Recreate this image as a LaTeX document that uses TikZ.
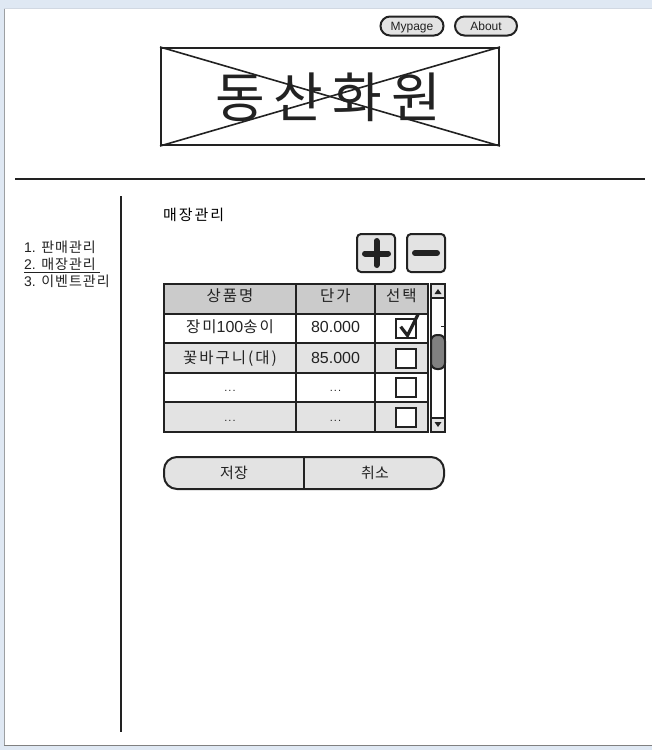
\documentclass[tikz,border=0pt]{standalone}
\usepackage{fontspec}
\setmainfont{Liberation Sans}
\newfontfamily\kr[LetterSpace=13]{Noto Sans CJK KR}
\newfontfamily\krmenu[LetterSpace=7]{Noto Sans CJK KR}
\newfontfamily\krplain{Noto Sans CJK KR}
\usepackage{xcolor}
\definecolor{ink}{HTML}{222222}
\definecolor{paneback}{HTML}{E3E3E3}
\definecolor{headback}{HTML}{CBCBCB}
\definecolor{frameblue}{HTML}{DFE8F3}
\definecolor{thumbgrey}{HTML}{808080}
\newcommand{\rowdots}{\normalfont\fontsize{11}{11}\selectfont .\hspace{1pt}.\hspace{1pt}.}
\newcommand{\num}[1]{{\normalfont\fontsize{16}{16}\selectfont #1}}
\tikzset{
  ln/.style={draw=ink, line width=2pt},
  cell/.style={ln, minimum height=29.6pt, inner sep=0pt},
  celltext/.style={inner sep=0pt, text=ink, text height=11pt, text depth=3pt, font=\kr\fontsize{15.5}{15.5}\selectfont},
  pill/.style={ln, fill=paneback, rounded corners=9.5pt, inner sep=0pt, minimum height=19pt, text height=10pt, text depth=1.5pt, text=ink, font=\fontsize{12}{12}\selectfont},
  squarebtn/.style={ln, fill=paneback, rounded corners=4pt, minimum width=38pt, minimum height=38pt, inner sep=0pt},
  checkbox/.style={ln, fill=white, minimum width=20pt, minimum height=19pt, inner sep=0pt},
  menuitem/.style={anchor=west, inner sep=0pt, text=ink, font=\krmenu\fontsize{14}{14}\selectfont},
  scrollbox/.style={ln, minimum width=14pt, inner sep=0pt},
  bartext/.style={text=ink, inner sep=0pt, font=\krplain\fontsize{15}{15}\selectfont},
}
\begin{document}
\begin{tikzpicture}[x=1pt,y=-1pt]
    \useasboundingbox (0,0) rectangle (652,750);

    % window frame
    \fill[frameblue] (0,0) rectangle (652,750);
    \fill[white] (4,8) rectangle (652,745);
    \draw[color=gray!70!frameblue, line width=1pt] (4.5,8) -- (4.5,745);
    \draw[color=gray, line width=1pt] (4,745) -- (652,745);
    \draw[color=frameblue!85!gray, line width=1pt] (4,8) -- (652,8);

    % top buttons
    \node[pill, minimum width=63pt] (mypage) at (412,26) {Mypage};
    \node[pill, minimum width=62pt] (about) at (486,26) {About};

    % logo
    \node[ln, minimum width=338pt, minimum height=97pt, inner sep=0pt] (logo) at (330,96.5) {};
    \draw[ink, line width=1.6pt] (logo.north west) -- (logo.south east);
    \draw[ink, line width=1.6pt] (logo.south west) -- (logo.north east);
    \node[text=ink, font=\krplain\fontsize{54}{54}\selectfont, inner sep=0pt] (title) at (328,97) {동\hspace{9pt}산\hspace{9pt}화\hspace{9pt}원};

    % dividers
    \coordinate (ruleL) at (15,179);
    \coordinate (ruleR) at (645,179);
    \draw[ln] (ruleL) -- (ruleR);
    \coordinate (sideT) at (121,196);
    \coordinate (sideB) at (121,732);
    \draw[ln] (sideT) -- (sideB);

    % menu
    \node[menuitem] (menua) at (24,247) {{\normalfont 1.} 판매관리};
    \node[menuitem] (menub) at (24,264) {{\normalfont 2.} 매장관리};
    \node[menuitem] (menuc) at (24,281) {{\normalfont 3.} 이벤트관리};
    \coordinate (underL) at (24,272.5);
    \coordinate (underR) at (100,272.5);
    \draw[ink, line width=1pt] (underL) -- (underR);

    \node[anchor=west, inner sep=0pt, text=black, font=\kr\fontsize{15}{15}\selectfont] (heading) at (163,215) {매장관리};

    % plus and minus
    \node[squarebtn] (plus) at (376,253) {};
    \node[squarebtn] (minus) at (426,253) {};
    \draw[ink, line width=6pt, line cap=round] (365,253.5) -- (388,253.5);
    \draw[ink, line width=6pt, line cap=round] (376.5,241) -- (376.5,265);
    \draw[ink, line width=6pt, line cap=round] (415,253) -- (437,253);

    % table
    \foreach \name/\ya/\col/\lift/\first/\second in {
        r0/298.8/headback/1.3/상품명/단가,
        r1/328.4/white/0/장미\num{100}송이/\num{80.000},
        r2/358/paneback/-1/꽃바구니(대)/\num{85.000},
        r3/387.6/white/0/\rowdots/\rowdots,
        r4/417.2/paneback/0/\rowdots/\rowdots} {
      \node[cell, fill=\col, minimum width=132pt] (\name a) at (230,\ya) {};
      \node[cell, fill=\col, minimum width=79pt] (\name b) at (335.5,\ya) {};
      \node[cell, fill=\col, minimum width=53pt] (\name c) at (401.5,\ya) {};
      \node[celltext] (\name atext) at ([yshift=\lift pt]\name a.center) {\first};
      \node[celltext] (\name btext) at ([yshift=\lift pt]\name b.center) {\second};
    }
    \node[celltext] (sel) at ([yshift=1pt]r0c.center) {선택};
    \foreach \name in {r1,r2,r3,r4}
      \node[checkbox, xshift=4.5pt] (\name box) at (\name c) {};
    \draw[ink, line width=3.2pt] (400.7,326.7) -- (407.5,335.5) -- (418,314.5);

    % scrollbar
    \node[scrollbox, fill=white, minimum height=148pt] (scroll) at (438,358) {};
    \node[scrollbox, fill=paneback, minimum height=14pt] (scrollup) at (438,291) {};
    \node[scrollbox, fill=paneback, minimum height=14pt] (scrolldown) at (438,425) {};
    \fill[ink] (434.5,294) -- (441.5,294) -- (438,289) -- cycle;
    \fill[ink] (434.5,422) -- (441.5,422) -- (438,427) -- cycle;
    \node[scrollbox, fill=thumbgrey, rounded corners=6pt, minimum height=34pt] (thumb) at (438,352) {};
    \draw[ink, line width=1.2pt] (441,326.5) -- (445,326.5);

    % save and cancel
    \draw[ln, fill=paneback, rounded corners=13pt] (164,457) rectangle (444,489);
    \draw[ln] (304,457) -- (304,489);
    \node[bartext] (save) at (234,473) {저장};
    \node[bartext] (cancel) at (375,473) {취소};

\end{tikzpicture}
\end{document}
